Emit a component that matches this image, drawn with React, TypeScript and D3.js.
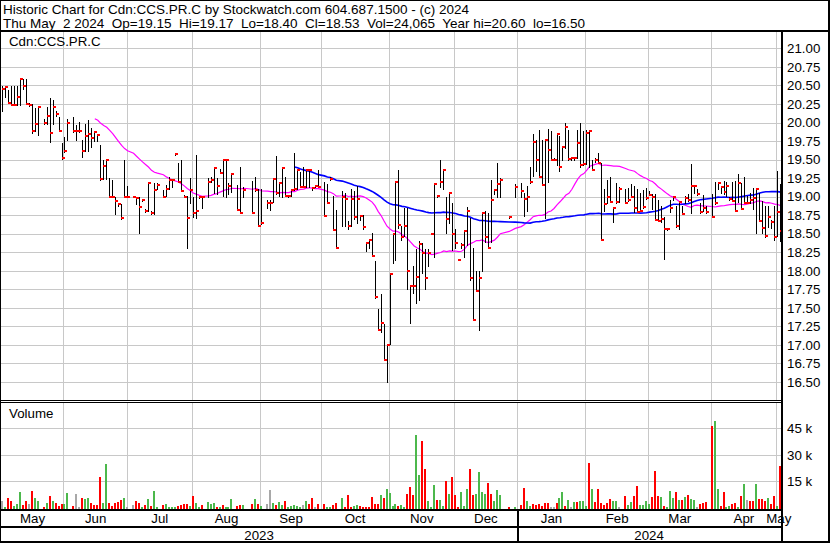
import React from "react";
import * as d3 from "d3";

// ---------------- DATA (one slot per weekday, starting 2023-05-01) ----------------
const START_DATE = "2023-05-01";

const high: (number | null)[] = [
  null, null, 20.49, 20.49, 20.44, 20.49, 20.49, 20.49, 20.59, 20.59,
  20.59, 20.27, 20.25, 20.19, 20.21, null, 20.05, 20.21, 20.33, 20.30,
  20.15, 20.07, 19.72, 19.80, 20.05, null, 20.08, 19.96, 20.01, 19.76,
  19.98, 20.04, 19.92, 19.87, 19.83, 19.70, 19.50, 19.50, 19.25, 19.23,
  18.99, 18.92, 18.90, 19.49, 19.15, null, 19.00, 18.99, 18.99, 18.96,
  18.83, 19.18, 18.80, 19.18, 19.18, null, 19.09, 19.16, 19.26, 19.24,
  19.57, 19.46, 19.49, 19.02, 19.01, 19.25, 19.00, 19.56, 19.00, 18.99,
  null, 19.25, 19.26, 19.40, 19.25, 19.37, 19.49, 19.49, 19.19, 19.31,
  null, 19.16, 19.40, 19.13, null, null, 19.21, 19.26, 19.10, 19.10,
  null, 18.96, 18.96, 19.24, 19.55, 19.20, 19.38, 19.26, 19.02, 19.10,
  19.59, 19.37, 19.33, 19.40, 19.37, 19.36, 19.13, 19.15, 19.36, null,
  19.20, 19.17, 19.26, 19.01, 18.82, null, 19.08, 19.05, 18.67, 19.10,
  19.08, 19.15, 18.75, 18.75, 18.37, 18.42, 18.51, 18.13, 17.49, 17.69,
  17.28, 17.00, 17.95, 18.51, 19.21, 19.36, 18.60, 18.85, 18.85, 17.80,
  18.06, 18.29, 18.40, 18.37, 18.29, 18.29, 18.51, 19.17, 19.02, 19.50,
  19.37, 19.00, 19.05, 18.91, 18.56, 18.15, 18.37, 18.53, 18.86, 18.71,
  18.30, 18.00, 18.00, 18.78, 18.80, 18.78, 19.22, 19.10, 19.46, 19.25,
  null, null, 18.73, null, 19.17, null, 19.18, 19.05, 19.14, 19.40,
  19.85, 19.76, 19.90, 19.76, 19.76, 19.91, 19.88, 19.52, 19.86, 19.82,
  19.67, 19.99, 19.90, 19.53, 19.53, 19.90, 19.99, 19.88, 19.90, 19.90,
  19.49, 19.52, 19.59, 19.45, 19.10, 19.22, 19.26, 18.86, 19.18, 19.13,
  null, 19.10, 19.11, 19.17, 19.15, 19.10, 19.05, 19.09, 19.12, 19.08,
  19.03, 19.03, 18.96, 18.87, 18.72, 18.57, 18.96, 19.00, 18.87, 18.93,
  18.87, 19.01, 19.03, 19.44, 19.16, 19.10, 18.92, 19.02, 18.87, null,
  19.03, 19.20, 19.20, 19.14, 19.21, 19.20, 18.99, 19.20, 19.21, 19.31,
  19.19, 19.27, 19.01, 19.05, 19.11, 19.10, 19.05, 18.94, 18.87, 18.87,
  18.69, 18.87, 19.35, 19.17,
];

const low: (number | null)[] = [
  null, null, 20.15, 20.34, 20.27, 20.23, 20.23, 20.23, 20.23, 20.45,
  20.25, 20.22, 19.86, 19.89, 19.83, null, 19.98, 19.98, 19.74, 19.98,
  20.09, 19.89, 19.51, 19.60, 19.76, null, 19.87, 19.76, 19.87, 19.54,
  19.62, 19.61, 19.67, 19.75, 19.75, 19.23, 19.24, 19.24, 18.99, 18.99,
  18.77, 18.88, 18.70, 18.99, 18.99, null, 18.99, 18.90, 18.51, 18.94,
  18.79, 18.81, 18.77, 18.77, 19.10, null, 19.00, 19.01, 19.10, 19.13,
  19.56, 19.20, 19.08, 18.99, 18.31, 18.91, 18.73, 18.71, 18.98, 18.85,
  null, 19.00, 19.20, 19.05, 19.03, 19.32, 19.01, 19.00, 19.03, 19.06,
  null, 18.82, 18.78, 19.00, null, null, 18.78, 19.08, 18.60, 18.63,
  null, 18.85, 18.82, 18.93, 19.03, 19.01, 19.00, 19.01, 19.00, 19.01,
  19.09, 19.10, 19.13, 19.13, 19.13, 19.13, 19.09, 19.13, 19.13, null,
  18.74, 18.91, 19.22, 18.55, 18.30, null, 18.60, 18.61, 18.56, 18.60,
  18.70, 18.65, 18.68, 18.56, 18.26, 18.30, 18.20, 17.63, 17.20, 17.17,
  16.79, 16.50, 17.01, 18.11, 18.15, 18.57, 18.42, 18.47, 17.76, 17.30,
  17.70, 17.56, 17.61, 17.97, 17.76, 18.07, 18.49, 18.19, 18.99, 19.13,
  19.10, 18.51, 18.64, 18.28, 18.30, 18.14, 18.30, 18.19, 18.35, 17.88,
  17.33, 17.73, 17.20, 18.00, 18.39, 18.30, 18.39, 19.04, 19.00, 19.00,
  null, null, 18.71, null, 19.00, null, 19.00, 18.74, 18.80, 19.18,
  19.28, 19.34, 19.27, 19.16, 18.71, 19.20, 19.50, 19.49, 19.43, 19.34,
  19.49, 19.65, 19.50, 19.50, 19.50, 19.52, 19.40, 19.43, 19.44, 19.40,
  19.36, 19.47, 19.45, 18.41, 18.81, 18.91, 18.93, 18.66, 18.91, 18.93,
  null, 18.91, 18.94, 19.00, 18.79, 18.79, 18.80, 18.85, 18.97, 19.02,
  18.83, 18.69, 18.67, 18.66, 18.16, 18.55, 18.79, 18.96, 18.59, 18.56,
  18.76, 18.92, 18.94, 18.78, 19.05, 19.02, 18.78, 18.81, 18.78, null,
  18.72, 18.90, 19.10, 19.05, 19.03, 19.01, 18.95, 18.94, 18.80, 18.93,
  18.83, 18.92, 18.92, 18.92, 18.83, 18.51, 18.67, 18.51, 18.46, 18.59,
  18.58, 18.42, 18.47, 18.40,
];

const close: (number | null)[] = [
  null, null, 20.45, 20.48, 20.27, 20.23, 20.23, 20.34, 20.59, 20.49,
  20.25, 20.24, 19.89, 19.98, 20.21, null, 20.00, 20.09, 19.86, 20.21,
  20.11, 19.89, 19.52, 19.61, 19.99, null, 19.89, 19.89, 19.89, 19.62,
  19.82, 19.84, 19.79, 19.87, 19.83, 19.24, 19.41, 19.49, 18.99, 18.99,
  18.94, 18.90, 18.71, 18.99, 18.99, null, 18.99, 18.98, 18.86, 18.95,
  18.81, 19.18, 18.78, 19.09, 19.16, null, 19.00, 19.10, 19.23, 19.23,
  19.57, 19.20, 19.08, 19.00, 18.71, 19.09, 18.78, 18.80, 18.99, 18.99,
  null, 19.20, 19.23, 19.39, 19.15, 19.32, 19.49, 19.49, 19.14, 19.31,
  null, 18.82, 18.78, 19.09, null, null, 18.78, 19.09, 18.61, 18.65,
  null, 18.92, 18.92, 19.24, 19.05, 19.19, 19.38, 19.01, 19.01, 19.09,
  19.10, 19.36, 19.13, 19.13, 19.36, 19.36, 19.11, 19.14, 19.13, null,
  18.74, 18.91, 19.24, 18.55, 18.30, null, 18.99, 18.97, 18.60, 18.97,
  18.72, 18.97, 18.74, 18.59, 18.37, 18.41, 18.20, 17.65, 17.20, 17.29,
  16.79, 17.00, 17.95, 18.50, 19.20, 18.62, 18.46, 18.60, 18.00, 17.80,
  17.79, 17.91, 18.36, 18.24, 17.90, 18.24, 18.50, 19.17, 19.01, 19.20,
  19.36, 18.70, 19.05, 18.50, 18.38, 18.15, 18.35, 18.53, 18.80, 17.90,
  17.33, 17.73, 17.90, 18.78, 18.46, 18.31, 18.95, 19.09, 19.17, 19.22,
  null, null, 18.72, null, 19.13, null, 19.08, 18.97, 19.00, 19.20,
  19.74, 19.49, 19.27, 19.16, 19.76, 19.63, 19.50, 19.49, 19.85, 19.40,
  19.67, 19.94, 19.51, 19.52, 19.52, 19.73, 19.43, 19.44, 19.86, 19.89,
  19.36, 19.49, 19.45, 18.41, 18.90, 19.00, 18.93, 18.84, 18.93, 19.10,
  null, 18.92, 18.96, 19.00, 18.85, 18.79, 18.81, 18.86, 18.98, 19.02,
  18.99, 18.69, 18.67, 18.70, 18.56, 18.56, 18.85, 18.99, 18.60, 18.93,
  18.77, 18.98, 18.95, 19.14, 19.15, 19.04, 18.79, 18.84, 18.79, null,
  18.72, 18.91, 19.18, 19.13, 19.06, 19.14, 18.97, 18.94, 18.81, 19.18,
  18.83, 18.92, 18.92, 18.96, 18.98, 19.10, 18.67, 18.58, 18.47, 18.73,
  18.66, 18.45, 18.79, 18.53,
];

// volume in thousands of shares
const volume: (number | null)[] = [
  null, null, 3.7, 0.3, 5.2, 3.7, 0.8, 2.2, 8.6, 1.4,
  3.7, 2.0, 9.4, 5.4, 3.7, null, 0.3, 2.5, 6.5, 3.7,
  2.5, 0.8, 1.8, 2.2, 8.2, null, 1.0, 7.6, 0.3, 5.4,
  4.8, 5.4, 2.5, 1.4, 1.4, 17.3, 2.5, 24.7, 2.5, 0.6,
  2.5, 3.3, 4.2, 5.4, 0.3, null, 1.4, 3.5, 2.5, 0.3,
  1.4, 4.8, 0.6, 9.4, 0.2, null, 1.4, 2.0, 0.3, 0.3,
  0.2, 0.6, 1.4, 1.8, 2.0, 0.8, 6.5, 2.5, 0.3, 1.4,
  null, 3.1, 2.2, 2.5, 0.3, 0.3, 1.4, 0.2, 0.2, 4.8,
  null, 0.6, 1.2, 1.4, null, null, 1.8, 4.8, 2.0, 0.8,
  null, 2.0, 10.1, 2.5, 1.4, 3.1, 1.4, 3.7, 0.3, 0.8,
  1.4, 0.8, 0.3, 1.4, 3.7, 2.2, 5.6, 0.2, 2.2, null,
  2.2, 0.2, 0.2, 1.4, 2.5, null, 5.4, 0.2, 7.1, 0.3,
  0.8, 1.4, 0.8, 0.3, 0.3, 0.3, 5.9, 2.0, 2.0, 7.1,
  5.4, 10.5, 8.2, 0.8, 2.0, 0.8, 1.4, 0.3, 7.6, 11.6,
  7.1, 41.2, 18.4, 37.8, 21.9, 3.7, 0.3, 12.8, 4.2, 4.2,
  0.8, 15.0, 7.6, 17.3, 7.1, 0.3, 8.8, 0.8, 10.5, 21.9,
  7.1, 7.6, 20.2, 8.8, 7.6, 13.9, 7.6, 3.7, 9.9, 7.1,
  null, null, 0.3, null, 0.3, null, 1.4, 11.1, 3.7, 0.8,
  2.0, 1.4, 2.0, 0.8, 2.5, 2.5, 0.3, 0.3, 2.5, 5.4,
  8.8, 0.8, 4.2, 0.2, 3.3, 3.1, 3.7, 3.7, 0.8, 25.3,
  10.5, 3.1, 10.5, 2.5, 1.4, 2.5, 4.8, 3.7, 3.7, 0.3,
  null, 6.5, 1.4, 3.1, 6.5, 12.2, 1.4, 1.4, 3.7, 2.0,
  5.9, 20.7, 6.5, 5.9, 0.8, 0.2, 9.4, 5.4, 8.8, 4.2,
  4.2, 5.9, 7.1, 4.8, 4.2, 0.3, 2.0, 2.5, 3.1, null,
  46.3, 49.1, 10.5, 0.8, 8.8, 0.3, 0.8, 2.0, 2.5, 0.3,
  6.5, 13.3, 4.2, 3.7, 3.7, 13.3, 4.8, 4.8, 3.7, 5.4,
  2.0, 6.5, 0.8, 23.6,
];

// volume bar colour per slot: g = up, r = down, n = unchanged, . = no bar
const volumeDirection: string[] = [
  "..ngrrgggr", "rnrgg.rgrg", "rrrgg.rnnr", "ggrrrrggrr", "rrrgn.nrrg",
  "rgrgg.rggg", "grrrrgrggr", ".gggrgrggg", ".rrg..rgrg", ".nngrggrgg",
  "gggngrrnr.", "rggrr.grrr", "ggrrrrrrrg", "rggggrggrr", "rggrrgggrg",
  "grgrrrgggr", "rggggrrggg", "..r.g.rrgg", "rrrrrrnnrg", "grgngrgggr",
  "grrrrrrggn", ".rggrrgggg", "rrrgrgggrg", "rgrggnrrr.", "rggrrggrrg",
  "rgnrrgrrrg", "rrgr",
];

const priceTicks = [16.5, 16.75, 17, 17.25, 17.5, 17.75, 18, 18.25, 18.5, 18.75, 19, 19.25, 19.5, 19.75, 20, 20.25, 20.5, 20.75, 21];
const volumeTicks = [15, 30, 45];
const monthStarts = [
  "2023-05-01", "2023-06-01", "2023-07-01", "2023-08-01", "2023-09-01", "2023-10-01", "2023-11-01",
  "2023-12-01", "2024-01-01", "2024-02-01", "2024-03-01", "2024-04-01", "2024-05-01", "2024-06-01",
];
const monthLabels = ["May", "Jun", "Jul", "Aug", "Sep", "Oct", "Nov", "Dec", "Jan", "Feb", "Mar", "Apr", "May"];
const yearStarts = ["2023-01-01", "2024-01-01", "2025-01-01"];
const yearLabels = ["2023", "2024"];
const maWindows = [30, 90];

const title1 = "Historic Chart for Cdn:CCS.PR.C by Stockwatch.com 604.687.1500 - (c) 2024";
const title2 = "Thu May  2 2024  Op=19.15  Hi=19.17  Lo=18.40  Cl=18.53  Vol=24,065  Year hi=20.60  lo=16.50";
const symbolLabel = "Cdn:CCS.PR.C";
const volumeLabel = "Volume";

// ---------------- LAYOUT ----------------
const W = 830;
const H = 543;
const FONT = "'Liberation Sans', Arial, Helvetica, sans-serif";
const X0 = -4.1;
const STEP = 2.982;
const PANEL_RIGHT = 781;
const PRICE_TOP = 32;
const PRICE_BOTTOM = 400;
const VOL_TOP = 403;
const VOL_BASE = 509;
const GRID = "#c8c8c8";
const GREEN = "#4cb84c";
const RED = "#ff0000";
const GRAY = "#a8a8a8";

export default function App() {
  const n = close.length;
  const dirs = volumeDirection.join("");
  const parse = d3.timeParse("%Y-%m-%d");
  const start = parse(START_DATE) as Date;

  const wdIndex = (d: Date) => {
    let c = 0;
    const t = new Date(start.getTime());
    if (d < start) {
      while (t > d) {
        t.setDate(t.getDate() - 1);
        const w = t.getDay();
        if (w !== 0 && w !== 6) c--;
      }
      return c;
    }
    while (t < d) {
      const w = t.getDay();
      if (w !== 0 && w !== 6) c++;
      t.setDate(t.getDate() + 1);
    }
    return c;
  };

  const x = d3.scaleLinear().domain([0, n - 1]).range([X0, X0 + STEP * (n - 1)]);
  const yP = d3.scaleLinear().domain([16.5, 21]).range([381.9, 48.4]);
  const yV = d3.scaleLinear().domain([0, 45]).range([507.5, 428.3]);

  const gridX = (s: string) => {
    const d = parse(s) as Date;
    const w = d.getDay();
    if (w === 0 || w === 6) return x(wdIndex(d) - 1) + 0.3;
    return x(wdIndex(d)) - 0.5;
  };

  const monthX = monthStarts.map(gridX);
  const yearX = yearStarts.map(gridX);

  // moving averages computed from the closes
  const valid = close.map((c, i) => (c == null ? -1 : i)).filter((i) => i >= 0);
  const maSeries = maWindows.map((win) => {
    const pts: [number, number][] = [];
    for (let k = win - 1; k < valid.length; k++) {
      const slice = valid.slice(k - win + 1, k + 1).map((i) => close[i] as number);
      pts.push([valid[k], d3.mean(slice) as number]);
    }
    return pts;
  });
  const line = d3
    .line<[number, number]>()
    .x((d) => x(d[0]) + 0.5)
    .y((d) => yP(d[1]));

  const fmt = d3.format(".2f");

  return (
    <svg
      width={W}
      height={H}
      viewBox={`0 0 ${W} ${H}`}
      style={{ position: "absolute", left: 0, top: 0, background: "#fff", fontFamily: FONT }}
    >
      <defs>
        <clipPath id="pclip">
          <rect x={1} y={PRICE_TOP} width={PANEL_RIGHT - 1} height={PRICE_BOTTOM - PRICE_TOP} />
        </clipPath>
        <clipPath id="vclip">
          <rect x={1} y={VOL_TOP} width={PANEL_RIGHT - 1} height={VOL_BASE - VOL_TOP} />
        </clipPath>
      </defs>
      <rect x={0} y={0} width={W} height={H} fill="#fff" />

      {/* header */}
      <text x={3} y={13.5} fontSize={13.5} fill="#000" style={{ whiteSpace: "pre" }}>{title1}</text>
      <text x={3} y={27.5} fontSize={13.5} fill="#000" style={{ whiteSpace: "pre" }}>{title2}</text>

      {/* price grid */}
      {priceTicks.map((t) => (
        <line key={"pg" + t} x1={1} x2={PANEL_RIGHT} y1={Math.round(yP(t)) + 0.5} y2={Math.round(yP(t)) + 0.5} stroke={GRID} strokeWidth={1} />
      ))}
      {monthX.slice(1, 13).map((mx, k) => (
        <g key={"mg" + k}>
          <line x1={Math.floor(mx) + 0.5} x2={Math.floor(mx) + 0.5} y1={PRICE_TOP} y2={PRICE_BOTTOM} stroke={GRID} strokeWidth={1} />
          <line x1={Math.floor(mx) + 0.5} x2={Math.floor(mx) + 0.5} y1={VOL_TOP} y2={VOL_BASE} stroke={GRID} strokeWidth={1} />
        </g>
      ))}
      {volumeTicks.map((t) => (
        <line key={"vg" + t} x1={1} x2={PANEL_RIGHT} y1={Math.round(yV(t)) + 0.5} y2={Math.round(yV(t)) + 0.5} stroke={GRID} strokeWidth={1} />
      ))}

      <text x={9} y={46} fontSize={13.3} fill="#000">{symbolLabel}</text>
      <text x={9} y={418} fontSize={13.3} fill="#000">{volumeLabel}</text>

      {/* moving averages */}
      <g clipPath="url(#pclip)">
        <path d={line(maSeries[0]) || ""} fill="none" stroke="#ff00ff" strokeWidth={1.2} />
        <path d={line(maSeries[1]) || ""} fill="none" stroke="#0000ff" strokeWidth={1.6} />
      </g>

      {/* price bars */}
      <g clipPath="url(#pclip)" shapeRendering="crispEdges">
        {close.map((c, i) => {
          if (c == null) return null;
          const hi = high[i] as number;
          const lo = low[i] as number;
          const bx = Math.round(x(i));
          const yt = Math.round(yP(hi));
          const yb = Math.round(yP(lo));
          return (
            <g key={"b" + i}>
              <rect x={bx} y={yt} width={1} height={Math.max(1, yb - yt + 1)} fill="#000" />
              <rect x={bx} y={Math.round(yP(c)) - 1} width={3} height={2} fill={RED} />
            </g>
          );
        })}
      </g>

      {/* volume bars */}
      <g clipPath="url(#vclip)" shapeRendering="crispEdges">
        {volume.map((v, i) => {
          if (v == null) return null;
          const d = dirs[i];
          const col = d === "g" ? GREEN : d === "r" ? RED : GRAY;
          const top = Math.round(yV(v));
          return <rect key={"v" + i} x={Math.round(x(i)) - 1} y={top} width={2} height={VOL_BASE - top} fill={col} />;
        })}
      </g>

      {/* frame lines */}
      <g shapeRendering="crispEdges">
        <rect x={0} y={30} width={W} height={2} fill="#000" />
        <rect x={0} y={400} width={PANEL_RIGHT} height={1} fill="#000" />
        <rect x={0} y={402} width={PANEL_RIGHT} height={1} fill="#000" />
        <rect x={0} y={VOL_BASE} width={PANEL_RIGHT} height={2} fill="#000" />
        <rect x={0} y={526} width={PANEL_RIGHT} height={2} fill="#000" />
        <rect x={Math.floor(yearX[1])} y={511} width={2} height={30} fill="#000" />
        <rect x={PANEL_RIGHT - 0.5} y={31} width={2} height={H - 31} fill="#000" />
        <rect x={0} y={0} width={W} height={1} fill="#000" />
        <rect x={0} y={0} width={1} height={H} fill="#000" />
        <rect x={W - 2} y={0} width={2} height={H} fill="#000" />
        <rect x={0} y={H - 2} width={W} height={2} fill="#000" />
      </g>

      {/* right axis labels */}
      {priceTicks.map((t) => (
        <text key={"pl" + t} x={787} y={yP(t) + 4.8} fontSize={13.3} fill="#000">{fmt(t)}</text>
      ))}
      {volumeTicks.map((t) => (
        <text key={"vl" + t} x={787} y={yV(t) + 4.8} fontSize={13.3} fill="#000">{`${t} k`}</text>
      ))}

      {/* month labels */}
      {monthLabels.map((m, k) => {
        const a = Math.max(monthX[k], 1);
        const b = Math.min(monthX[k + 1], PANEL_RIGHT);
        return (
          <text key={"ml" + k} x={(a + b) / 2} y={523} fontSize={13.3} textAnchor="middle" fill="#000">{m}</text>
        );
      })}
      {yearLabels.map((yl, k) => {
        const a = Math.max(yearX[k], 1);
        const b = Math.min(yearX[k + 1], PANEL_RIGHT);
        return (
          <text key={"yl" + k} x={(a + b) / 2} y={539.5} fontSize={13.3} textAnchor="middle" fill="#000">{yl}</text>
        );
      })}
    </svg>
  );
}
